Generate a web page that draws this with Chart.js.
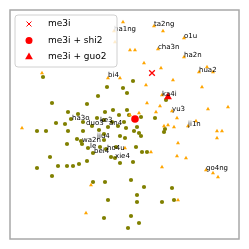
<!DOCTYPE html>
<html>
<head>
<meta charset="utf-8">
<script src="https://cdn.jsdelivr.net/npm/chart.js@4.4.0/dist/chart.umd.min.js"></script>
<style>
  html, body { margin: 0; padding: 0; background: #fff; }
  #wrap { width: 249px; height: 249px; }
</style>
</head>
<body>
<div id="wrap"><canvas id="scatterChart" width="249" height="249"></canvas></div>
<script>
// embedding coordinates (arbitrary units, 0..229)
const oliveX = [33, 42, 77, 58, 68, 61, 73, 46, 55, 27, 36, 58, 73, 67, 89, 98, 97, 88, 113, 123,
  95, 103, 109, 87, 117, 117, 131, 145, 82, 94, 102, 108, 114, 94, 94, 110, 71, 72, 57, 78,
  83, 90, 96, 106, 101, 105, 40, 27, 48, 57, 63, 69, 77, 42, 83, 95, 98, 94, 116, 124,
  127, 129, 131, 154, 155, 115, 126, 132, 137, 123, 110, 121, 134, 162, 127, 127, 152, 164, 121, 129,
  118, 156, 119];
const oliveY = [162, 136, 135, 127, 125, 120, 117, 116, 115, 108, 108, 108, 108, 100, 109, 112, 152, 143, 151, 158,
  127, 129, 124, 121, 146, 129, 122, 121, 113, 119, 117, 113, 117, 105, 99, 103, 98, 95, 95, 91,
  86, 92, 90, 92, 82, 81, 82, 71, 73, 73, 73, 75, 78, 63, 57, 57, 39, 21, 111, 108,
  112, 106, 103, 107, 110, 101, 92, 87, 87, 77, 76, 59, 52, 51, 44, 37, 37, 39, 23, 16,
  11, 139, 124];

const orangeX = [113, 104, 105, 32, 98, 110, 12, 81, 76, 144, 153, 174, 148, 120, 125, 174, 134, 151, 189, 197,
  203, 163, 136, 192, 152, 137, 150, 218, 198, 129, 146, 167, 120, 162, 186, 178, 154, 158, 164, 207,
  212, 207, 168, 115, 141, 167, 176, 152, 196, 203, 208, 168];
const orangeY = [217, 208, 197, 166, 161, 161, 111, 54, 26, 213, 208, 201, 190, 189, 189, 182, 176, 171, 167, 172,
  167, 159, 154, 152, 144, 136, 133, 132, 130, 126, 127, 121, 124, 128, 118, 113, 113, 114, 112, 108,
  108, 101, 96, 91, 87, 83, 81, 72, 69, 66, 62, 39];

// the three highlighted words
const me3iPoint = [142, 166];
const shi2Point = [125, 120];
const guo2Point = [158, 142];

const legendNames = ['me3i', 'me3i + shi2', 'me3i + guo2'];

// word labels (text starts at x, baseline at y)
const labelNames = ['ha1ng', 'ta2ng', 'o1u', 'cha3n', 'ha2n', 'hua2', 'bi4', 'ka4i', 'yu3', 'ji1n',
  'go4ng', 'ha3o', 'duo3', 'ke3', 'an4', 'wa2n', 'jiu4', 'le', 'bei4', 'ho4u', 'xie4'];
const labelX = [104, 144, 174, 148, 174, 189, 98, 152, 162, 178, 196, 62, 76, 90, 99, 72, 87, 80, 84, 97, 105];
const labelY = [208, 213, 201, 190, 182, 167, 162, 143, 128, 113, 69, 119, 114, 117, 114, 97, 101, 91, 86, 89, 81];

const toPoints = (xs, ys) => xs.map((x, i) => ({ x: x, y: ys[i] }));

// frame around the plot area
const framePlugin = {
  id: 'frame',
  afterDraw(chart) {
    const { ctx, chartArea: a } = chart;
    ctx.save();
    ctx.strokeStyle = '#a8a8a8';
    ctx.lineWidth = 1.5;
    ctx.strokeRect(a.left, a.top, a.right - a.left, a.bottom - a.top);
    ctx.restore();
  }
};

// text next to the points
const wordLabels = {
  id: 'wordLabels',
  afterDatasetsDraw(chart) {
    const { ctx, scales } = chart;
    ctx.save();
    ctx.font = '7px "DejaVu Sans"';
    ctx.fillStyle = '#000';
    ctx.textBaseline = 'alphabetic';
    labelNames.forEach((name, i) => {
      ctx.fillText(name, scales.x.getPixelForValue(labelX[i]), scales.y.getPixelForValue(labelY[i]));
    });
    ctx.restore();
  }
};

// legend box in the upper left corner, drawn on top of the points
const insideLegend = {
  id: 'insideLegend',
  afterDatasetsDraw(chart) {
    const { ctx, chartArea: a } = chart;
    const x0 = a.left + 5, y0 = a.top + 5, w = 102, h = 52;
    ctx.save();
    ctx.beginPath();
    ctx.roundRect(x0, y0, w, h, 3);
    ctx.fillStyle = 'rgba(255,255,255,0.8)';
    ctx.fill();
    ctx.strokeStyle = '#d0d0d0';
    ctx.lineWidth = 1;
    ctx.stroke();

    const styles = [
      { pointStyle: 'crossRot', radius: 3.5, borderWidth: 1.3 },
      { pointStyle: 'circle', radius: 3.5, borderWidth: 0 },
      { pointStyle: 'triangle', radius: 4.5, borderWidth: 0 }
    ];
    ctx.font = '9px "DejaVu Sans"';
    ctx.textBaseline = 'middle';
    legendNames.forEach((name, i) => {
      const cy = y0 + 9 + i * 16.5;
      ctx.fillStyle = 'red';
      ctx.strokeStyle = 'red';
      Chart.helpers.drawPoint(ctx, styles[i], x0 + 14, cy);
      ctx.fillStyle = '#000';
      ctx.fillText(name, x0 + 33, cy);
    });
    ctx.restore();
  }
};

new Chart(document.getElementById('scatterChart'), {
  type: 'scatter',
  data: {
    datasets: [
      {
        label: 'me3i',
        data: [{ x: me3iPoint[0], y: me3iPoint[1] }],
        pointStyle: 'crossRot',
        radius: 4,
        borderColor: 'red',
        borderWidth: 1.3,
        order: 1
      },
      {
        label: 'me3i + shi2',
        data: [{ x: shi2Point[0], y: shi2Point[1] }],
        pointStyle: 'circle',
        radius: 3.8,
        backgroundColor: 'red',
        borderWidth: 0,
        order: 1
      },
      {
        label: 'me3i + guo2',
        data: [{ x: guo2Point[0], y: guo2Point[1] }],
        pointStyle: 'triangle',
        radius: 4.5,
        backgroundColor: 'red',
        borderWidth: 0,
        order: 1
      },
      {
        label: 'other',
        data: toPoints(orangeX, orangeY),
        pointStyle: 'triangle',
        radius: 2.3,
        backgroundColor: '#ffa500',
        borderWidth: 0,
        order: 4
      },
      {
        label: 'words',
        data: toPoints(oliveX, oliveY),
        pointStyle: 'circle',
        radius: 2.1,
        backgroundColor: '#808000',
        borderWidth: 0,
        order: 5
      }
    ]
  },
  options: {
    responsive: false,
    animation: false,
    layout: { padding: { left: 10, top: 10, right: 10, bottom: 10 } },
    scales: {
      x: { display: false, min: 0, max: 229 },
      y: { display: false, min: 0, max: 229 }
    },
    plugins: {
      legend: { display: false },
      tooltip: { enabled: false }
    }
  },
  plugins: [wordLabels, insideLegend, framePlugin]
});
</script>
</body>
</html>
